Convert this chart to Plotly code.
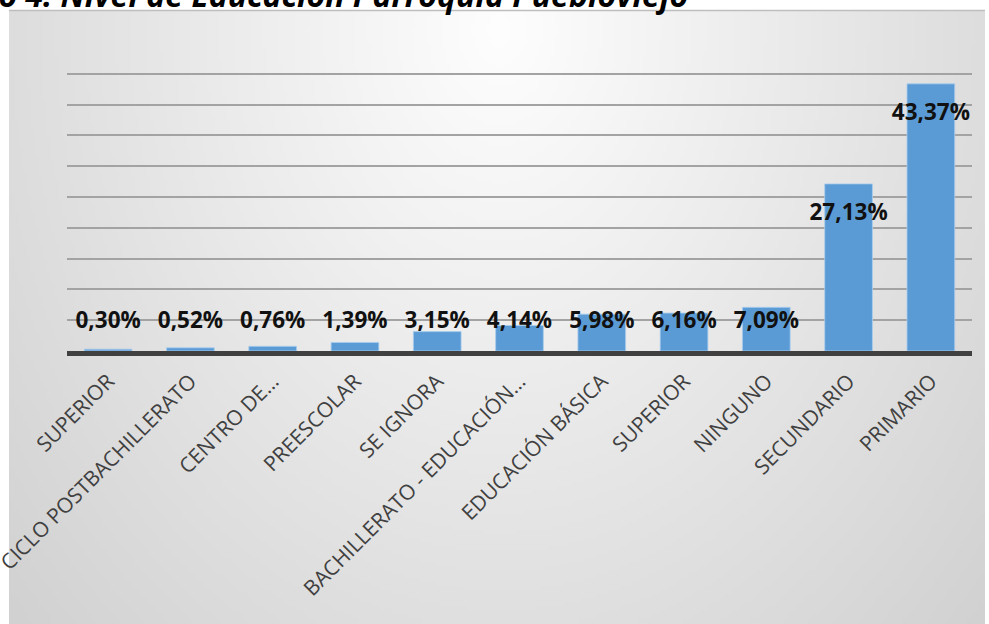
import base64
import struct
import zlib

import numpy as np
import plotly.graph_objects as go

# ---- data -------------------------------------------------------------
categories = [
    "SUPERIOR",
    "CICLO POSTBACHILLERATO",
    "CENTRO DE…",
    "PREESCOLAR",
    "SE IGNORA",
    "BACHILLERATO - EDUCACIÓN…",
    "EDUCACIÓN BÁSICA",
    "SUPERIOR",
    "NINGUNO",
    "SECUNDARIO",
    "PRIMARIO",
]
values = [0.30, 0.52, 0.76, 1.39, 3.15, 4.14, 5.98, 6.16, 7.09, 27.13, 43.37]
y_ticks = [0, 5, 10, 15, 20, 25, 30, 35, 40, 45, 50]
title_text = "Gráfico 4: Nivel de Educación Parroquia Puebloviejo"

# ---- page geometry (pixels) --------------------------------------------
W, H = 989, 624
ML, MR, MT, MB = 67, 17, 43, 273
PW, PH = W - ML - MR, H - MT - MB


def px_x(px):
    return (px - ML) / PW


def px_y(py):
    return (H - MB - py) / PH


# ---- soft grey radial backdrop rendered to a small PNG -------------------
BX0, BX1, BY0, BY1 = 9, 985, 10, 624


def backdrop_png():
    w, h = (BX1 - BX0) // 4, (BY1 - BY0) // 4
    xs = BX0 + (np.arange(w) + 0.5) * (BX1 - BX0) / w
    ys = BY0 + (np.arange(h) + 0.5) * (BY1 - BY0) / h
    gx, gy = np.meshgrid(xs, ys)
    r = np.sqrt(((gx - 500) / 490) ** 2 + ((gy - 30) / 640) ** 2)
    c = np.clip(254 - 33 * r, 198, 255).astype(np.uint8)
    img = np.stack([c, c, c], axis=-1)
    raw = b"".join(b"\x00" + row.tobytes() for row in img)

    def chunk(tag, data):
        body = tag + data
        return struct.pack(">I", len(data)) + body + struct.pack(">I", zlib.crc32(body) & 0xFFFFFFFF)

    png = b"\x89PNG\r\n\x1a\n"
    png += chunk(b"IHDR", struct.pack(">IIBBBBB", w, h, 8, 2, 0, 0, 0))
    png += chunk(b"IDAT", zlib.compress(raw, 9))
    png += chunk(b"IEND", b"")
    return "data:image/png;base64," + base64.b64encode(png).decode()


# ---- traces -------------------------------------------------------------
x_pos = list(range(len(categories)))
labels = [f"{v:.2f}".replace(".", ",") + "%" for v in values]
label_y = [max(v - 4.9, 4.63) for v in values]

fig = go.Figure()
fig.add_trace(
    go.Bar(
        x=x_pos,
        y=values,
        marker=dict(color="#5B9BD5", line=dict(color="rgba(170,205,238,0.8)", width=1)),
        width=0.58,
        hoverinfo="skip",
    )
)
fig.add_trace(
    go.Scatter(
        x=x_pos,
        y=label_y,
        mode="text",
        text=labels,
        textposition="middle center",
        textfont=dict(family="Open Sans", size=22.5, color="#111111", weight="bold"),
        hoverinfo="skip",
    )
)

fig.update_layout(
    width=W,
    height=H,
    margin=dict(l=ML, r=MR, t=MT, b=MB, pad=0, autoexpand=False),
    paper_bgcolor="white",
    plot_bgcolor="rgba(0,0,0,0)",
    showlegend=False,
    xaxis=dict(
        range=[-0.5, len(categories) - 0.5],
        tickmode="array",
        tickvals=x_pos,
        ticktext=categories,
        tickangle=-45,
        tickfont=dict(family="Open Sans", size=21, color="#404040"),
        ticklabelstandoff=5,
        ticklabeloverflow="allow",
        automargin=False,
        showgrid=False,
        showline=True,
        linecolor="#404040",
        linewidth=4.5,
        zeroline=False,
        ticks="",
        fixedrange=True,
    ),
    yaxis=dict(
        range=[0, 50],
        tickmode="array",
        tickvals=y_ticks,
        showticklabels=False,
        automargin=False,
        showgrid=True,
        gridcolor="#A3A3A3",
        gridwidth=2,
        zeroline=False,
        fixedrange=True,
    ),
    images=[
        dict(
            source=backdrop_png(),
            xref="paper",
            yref="paper",
            x=px_x(BX0),
            y=px_y(BY0),
            sizex=(BX1 - BX0) / PW,
            sizey=(BY1 - BY0) / PH,
            sizing="stretch",
            xanchor="left",
            yanchor="top",
            layer="below",
        )
    ],
    shapes=[
        dict(
            type="line",
            xref="paper",
            yref="paper",
            x0=px_x(BX0),
            x1=px_x(BX1),
            y0=px_y(BY0 + 0.5),
            y1=px_y(BY0 + 0.5),
            line=dict(color="#BEBEBE", width=1.5),
            layer="below",
        )
    ],
    annotations=[
        dict(
            text=title_text,
            xref="paper",
            yref="paper",
            x=px_x(690),
            y=px_y(18),
            xanchor="right",
            yanchor="bottom",
            showarrow=False,
            font=dict(family="Open Sans", size=32, color="black", weight="bold", style="italic"),
        )
    ],
)

fig.write_html("out.html")
